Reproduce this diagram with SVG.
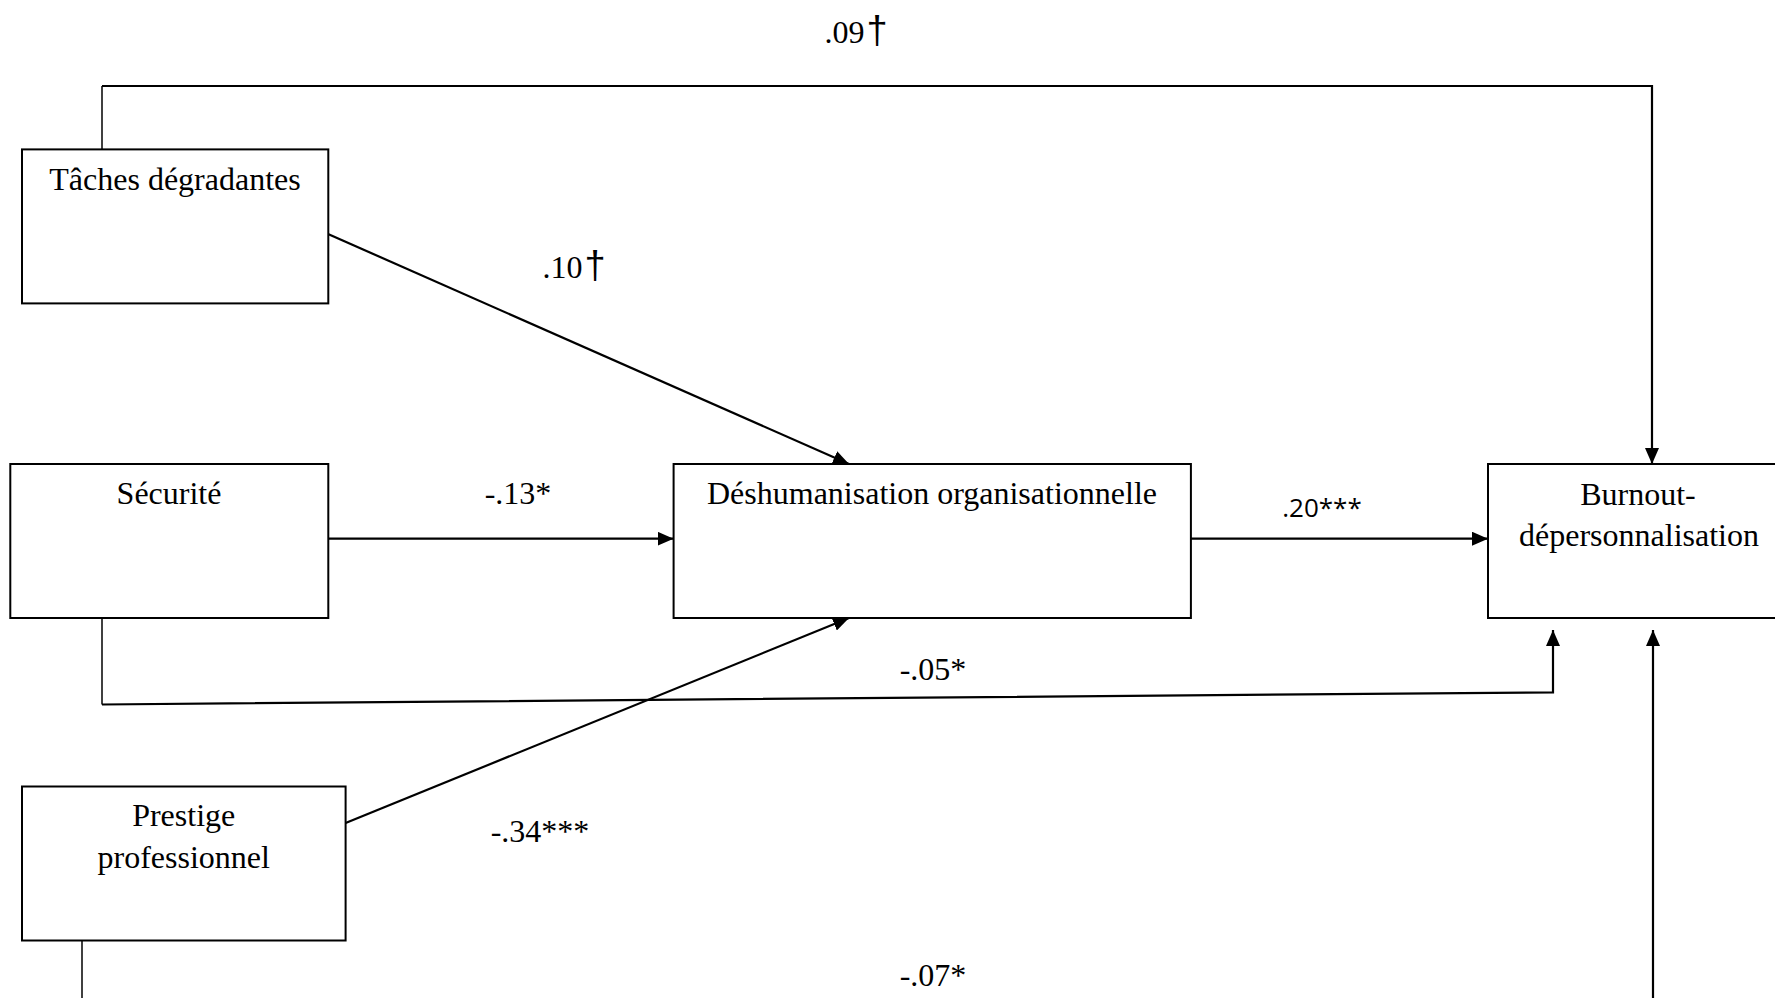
<svg xmlns="http://www.w3.org/2000/svg" width="1775" height="998" viewBox="0 0 1775 998">
<style>
.box{fill:#fff;stroke:#000;stroke-width:2}
.lbl{font-family:"Liberation Serif","Times New Roman",serif;font-size:32px;fill:#000;text-anchor:middle}
.dag{font-family:"Liberation Sans",Arial,sans-serif;font-size:38px}
.sans{font-family:"Open Sans","Liberation Sans",sans-serif;font-size:26px;fill:#000;text-anchor:middle}
.ln{fill:none;stroke:#000;stroke-width:2.2}
.thin{fill:none;stroke:#000;stroke-width:1.5}
</style>
<defs>
<marker id="ah" markerUnits="userSpaceOnUse" markerWidth="16" markerHeight="14" refX="16" refY="7" orient="auto">
<path d="M0,0 L16,7 L0,14 z" fill="#000"/>
</marker>
</defs>
<rect width="1775" height="998" fill="#fff"/>
<g id="connectors">
<path class="thin" d="M102,149 V86"/>
<path class="ln" d="M102,86 H1652 V464" marker-end="url(#ah)"/>
<path class="ln" d="M328,234 L849,464" marker-end="url(#ah)"/>
<path class="ln" d="M328,538.7 H673.6" marker-end="url(#ah)"/>
<path class="thin" d="M102,618 V704.5"/>
<path class="ln" d="M102,704.5 L1553,692.3 V630" marker-end="url(#ah)"/>
<path class="ln" d="M345.6,823 L849,618" marker-end="url(#ah)"/>
<path class="ln" d="M1191,538.7 H1488" marker-end="url(#ah)"/>
<path class="thin" d="M82,940 V1000"/>
<path class="ln" d="M1653,1000 V630" marker-end="url(#ah)"/>
<text class="lbl" x="856" y="43">.09<tspan class="dag" dx="2">†</tspan></text>
<text class="lbl" x="574" y="278">.10<tspan class="dag" dx="2">†</tspan></text>
<text class="lbl" x="518" y="504">-.13*</text>
<text class="sans" x="1322" y="517">.20***</text>
<text class="lbl" x="933" y="680">-.05*</text>
<text class="lbl" x="540" y="842">-.34***</text>
<text class="lbl" x="933" y="986">-.07*</text>
</g>
<g id="taches">
<rect class="box" x="22" y="149.4" width="306.3" height="154"/>
<text class="lbl" x="175" y="190">Tâches dégradantes</text>
</g>
<g id="securite">
<rect class="box" x="10.3" y="464" width="318" height="154"/>
<text class="lbl" x="169" y="504">Sécurité</text>
</g>
<g id="deshumanisation">
<rect class="box" x="673.6" y="464" width="517.3" height="154"/>
<text class="lbl" x="932" y="504">Déshumanisation organisationnelle</text>
</g>
<g id="burnout">
<rect class="box" x="1488" y="464" width="310" height="154"/>
<text class="lbl" x="1638" y="505">Burnout-</text>
<text class="lbl" x="1639" y="546">dépersonnalisation</text>
</g>
<g id="prestige">
<rect class="box" x="22" y="786.5" width="323.6" height="154"/>
<text class="lbl" x="183.7" y="826">Prestige</text>
<text class="lbl" x="183.7" y="868">professionnel</text>
</g>
</svg>
